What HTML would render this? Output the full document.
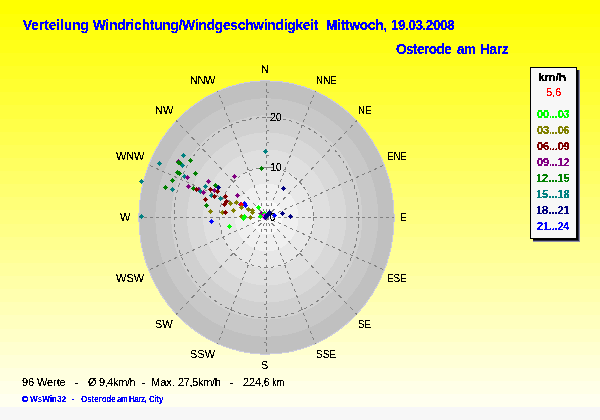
<!DOCTYPE html>
<html lang="de">
<head>
<meta charset="utf-8">
<title>Verteilung Windrichtung/Windgeschwindigkeit</title>
<style>
html,body{margin:0;padding:0;}
body{width:600px;height:420px;background:#f7f7f7;overflow:hidden;font-family:"Liberation Sans",sans-serif;}
#chart{position:absolute;left:0;top:0;width:600px;height:407px;overflow:hidden;
 background:linear-gradient(to bottom, rgb(255,255,0) 0.50px, rgb(255,255,0) 13.62px, rgb(255,255,8) 13.62px, rgb(255,255,8) 26.75px, rgb(255,255,16) 26.75px, rgb(255,255,16) 39.88px, rgb(255,255,24) 39.88px, rgb(255,255,24) 53.00px, rgb(255,255,32) 53.00px, rgb(255,255,32) 66.12px, rgb(255,255,40) 66.12px, rgb(255,255,40) 79.25px, rgb(255,255,48) 79.25px, rgb(255,255,48) 92.38px, rgb(255,255,56) 92.38px, rgb(255,255,56) 105.50px, rgb(255,255,64) 105.50px, rgb(255,255,64) 118.62px, rgb(255,255,72) 118.62px, rgb(255,255,72) 131.75px, rgb(255,255,80) 131.75px, rgb(255,255,80) 144.88px, rgb(255,255,88) 144.88px, rgb(255,255,88) 158.00px, rgb(255,255,96) 158.00px, rgb(255,255,96) 171.12px, rgb(255,255,104) 171.12px, rgb(255,255,104) 184.25px, rgb(255,255,112) 184.25px, rgb(255,255,112) 197.38px, rgb(255,255,120) 197.38px, rgb(255,255,120) 210.50px, rgb(255,255,128) 210.50px, rgb(255,255,128) 223.62px, rgb(255,255,135) 223.62px, rgb(255,255,135) 236.75px, rgb(255,255,143) 236.75px, rgb(255,255,143) 249.88px, rgb(255,255,151) 249.88px, rgb(255,255,151) 263.00px, rgb(255,255,159) 263.00px, rgb(255,255,159) 276.12px, rgb(255,255,167) 276.12px, rgb(255,255,167) 289.25px, rgb(255,255,175) 289.25px, rgb(255,255,175) 302.38px, rgb(255,255,183) 302.38px, rgb(255,255,183) 315.50px, rgb(255,255,191) 315.50px, rgb(255,255,191) 328.62px, rgb(255,255,199) 328.62px, rgb(255,255,199) 341.75px, rgb(255,255,207) 341.75px, rgb(255,255,207) 354.88px, rgb(255,255,215) 354.88px, rgb(255,255,215) 368.00px, rgb(255,255,223) 368.00px, rgb(255,255,223) 381.12px, rgb(255,255,231) 381.12px, rgb(255,255,231) 394.25px, rgb(255,255,239) 394.25px, rgb(255,255,239) 407.38px, rgb(255,255,247) 407.38px, rgb(255,255,247) 420.50px);}
#chart svg{position:absolute;left:0;top:0;}
.ln{position:absolute;left:0;top:0;width:0;height:0;}
.ln span{position:absolute;white-space:pre;line-height:1;filter:url(#crisp);}
.title span,.sub span{font-weight:bold;font-size:13.5px;color:#0000ff;transform:scaleY(1.05);transform-origin:0 0;filter:url(#crisp3);}
.foot span,.lb span{font-size:11px;color:#000;}
.copy span{font-size:8px;font-weight:bold;color:#0000ff;transform:scaleY(1.15);transform-origin:0 0;}
.lg span{font-weight:bold;font-size:11px;filter:url(#crisp3);}
#shadow{position:absolute;left:533px;top:70px;width:47px;height:172px;background:#9090ac;}
#shadow:before{content:"";position:absolute;left:0;top:0;width:46px;height:171px;background:#2c2c44;}
#shadow:after{content:"";position:absolute;left:0;top:0;width:45px;height:170px;background:#000;}
#lbox{position:absolute;left:530px;top:67px;width:45px;height:170px;border:1px solid #000;background:#f7f7f7;}
</style>
</head>
<body>
<div id="chart">
<svg width="600" height="407" viewBox="0 0 600 407">
<defs><filter id="crisp" x="-20%" y="-30%" width="140%" height="160%" color-interpolation-filters="sRGB"><feComponentTransfer><feFuncA type="discrete" tableValues="0 0 1 1 1"/></feComponentTransfer></filter><filter id="crisp15" x="-20%" y="-30%" width="140%" height="160%" color-interpolation-filters="sRGB"><feComponentTransfer><feFuncA type="discrete" tableValues="0 1 1 1 1 1 1"/></feComponentTransfer></filter><filter id="crisp3" x="-20%" y="-30%" width="140%" height="160%" color-interpolation-filters="sRGB"><feComponentTransfer><feFuncA type="discrete" tableValues="0 1 1"/></feComponentTransfer></filter><filter id="crisp25" x="-20%" y="-30%" width="140%" height="160%" color-interpolation-filters="sRGB"><feComponentTransfer><feFuncA type="discrete" tableValues="0 1 1 1"/></feComponentTransfer></filter></defs>
<g shape-rendering="crispEdges">
<ellipse cx="266.5" cy="217.5" rx="128.2" ry="137.2" fill="#ccccde"/>
<ellipse cx="266.5" cy="217.5" rx="127.2" ry="136.2" fill="rgb(192,192,192)"/>
<ellipse cx="266.8" cy="217.5" rx="111.51" ry="119.21" fill="rgb(200,200,200)"/>
<ellipse cx="266.8" cy="217.5" rx="95.58" ry="102.18" fill="rgb(208,208,208)"/>
<ellipse cx="266.8" cy="217.5" rx="79.65" ry="85.15" fill="rgb(216,216,216)"/>
<ellipse cx="266.8" cy="217.5" rx="63.72" ry="68.12" fill="rgb(223,223,223)"/>
<ellipse cx="266.8" cy="217.5" rx="47.79" ry="51.09" fill="rgb(231,231,231)"/>
<ellipse cx="266.8" cy="217.5" rx="31.86" ry="34.06" fill="rgb(239,239,239)"/>
<ellipse cx="266.8" cy="217.5" rx="15.93" ry="17.03" fill="rgb(247,247,247)"/>
</g>
<g stroke="#808080" stroke-width="1" fill="none" shape-rendering="crispEdges">
<line x1="266.50" y1="218.00" x2="266.50" y2="80.50" stroke-dasharray="3.00 3.00"/>
<line x1="266.31" y1="218.00" x2="315.33" y2="90.93" stroke-dasharray="3.22 3.22"/>
<line x1="266.03" y1="218.00" x2="356.73" y2="120.63" stroke-dasharray="4.10 4.10"/>
<line x1="266.00" y1="217.72" x2="384.39" y2="165.07" stroke-dasharray="3.28 3.28"/>
<line x1="266.00" y1="217.50" x2="394.10" y2="217.50" stroke-dasharray="3.00 3.00"/>
<line x1="266.00" y1="217.28" x2="384.39" y2="269.93" stroke-dasharray="3.28 3.28"/>
<line x1="266.03" y1="217.00" x2="356.73" y2="314.37" stroke-dasharray="4.10 4.10"/>
<line x1="266.31" y1="217.00" x2="315.33" y2="344.07" stroke-dasharray="3.22 3.22"/>
<line x1="266.50" y1="217.00" x2="266.50" y2="354.50" stroke-dasharray="3.00 3.00"/>
<line x1="266.69" y1="217.00" x2="217.67" y2="344.07" stroke-dasharray="3.22 3.22"/>
<line x1="266.97" y1="217.00" x2="176.27" y2="314.37" stroke-dasharray="4.10 4.10"/>
<line x1="267.00" y1="217.28" x2="148.61" y2="269.93" stroke-dasharray="3.28 3.28"/>
<line x1="267.00" y1="217.50" x2="138.90" y2="217.50" stroke-dasharray="3.00 3.00"/>
<line x1="267.00" y1="217.72" x2="148.61" y2="165.07" stroke-dasharray="3.28 3.28"/>
<line x1="266.97" y1="218.00" x2="176.27" y2="120.63" stroke-dasharray="4.10 4.10"/>
<line x1="266.69" y1="218.00" x2="217.67" y2="90.93" stroke-dasharray="3.22 3.22"/>
<ellipse cx="266.5" cy="217.5" rx="47" ry="50" stroke-dasharray="3.4 3.4"/>
<ellipse cx="266.5" cy="217.5" rx="92.5" ry="100" stroke-dasharray="3.4 3.4"/>
</g>
<g fill="#808080" shape-rendering="crispEdges">
<rect x="267" y="205" width="2" height="1"/>
<rect x="264" y="229" width="2" height="1"/>
<rect x="267" y="192" width="2" height="1"/>
<rect x="264" y="242" width="2" height="1"/>
<rect x="267" y="180" width="2" height="1"/>
<rect x="264" y="254" width="2" height="1"/>
<rect x="267" y="167" width="2" height="1"/>
<rect x="264" y="267" width="2" height="1"/>
<rect x="267" y="155" width="2" height="1"/>
<rect x="264" y="279" width="2" height="1"/>
<rect x="267" y="142" width="2" height="1"/>
<rect x="264" y="292" width="2" height="1"/>
<rect x="267" y="130" width="2" height="1"/>
<rect x="264" y="304" width="2" height="1"/>
<rect x="267" y="117" width="2" height="1"/>
<rect x="264" y="317" width="2" height="1"/>
<rect x="267" y="105" width="2" height="1"/>
<rect x="264" y="329" width="2" height="1"/>
<rect x="267" y="92" width="2" height="1"/>
<rect x="264" y="342" width="2" height="1"/>
</g>
</svg>
<div class="ln lb"><span style="left:261px;top:64px;">N</span> <span style="left:316px;top:75px;transform:scaleX(0.9);transform-origin:0 0;">NNE</span> <span style="left:358px;top:105px;transform:scaleX(0.9);transform-origin:0 0;">NE</span> <span style="left:387px;top:151px;letter-spacing:-0.25px;transform:scaleX(0.9);transform-origin:0 0;">ENE</span> <span style="left:400px;top:212px;transform:scaleX(0.9);transform-origin:0 0;">E</span> <span style="left:387px;top:273px;transform:scaleX(0.9);transform-origin:0 0;">ESE</span> <span style="left:358px;top:319px;transform:scaleX(0.9);transform-origin:0 0;">SE</span> <span style="left:316px;top:349px;letter-spacing:0.1px;transform:scaleX(0.9);transform-origin:0 0;">SSE</span> <span style="left:261px;top:360px;">S</span> <span style="left:190px;top:349px;">SSW</span> <span style="left:155px;top:319px;">SW</span> <span style="left:116px;top:273px;">WSW</span> <span style="left:120px;top:212px;">W</span> <span style="left:116px;top:151px;letter-spacing:-0.15px;">WNW</span> <span style="left:155px;top:105px;">NW</span> <span style="left:190px;top:75px;letter-spacing:-0.4px;">NNW</span> <span style="left:270px;top:112px;letter-spacing:-0.25px;">20</span> <span style="left:270px;top:162px;letter-spacing:-0.25px;">10</span> <span style="left:270px;top:212px;transform:scaleX(0.85);transform-origin:0 0;">0</span></div>
<svg width="600" height="407" viewBox="0 0 600 407">
<g shape-rendering="crispEdges">
<path fill="#008080" d="M183.5 153.0L186.0 155.5L183.5 158.0L181.0 155.5Z"/>
<path fill="#008000" d="M190.5 158.0L193.0 160.5L190.5 163.0L188.0 160.5Z"/>
<path fill="#008080" d="M159.5 161.0L162.0 163.5L159.5 166.0L157.0 163.5Z"/>
<path fill="#800080" d="M178.5 159.0L181.0 161.5L178.5 164.0L176.0 161.5Z"/>
<path fill="#008000" d="M178.5 160.0L181.0 162.5L178.5 165.0L176.0 162.5Z"/>
<path fill="#008000" d="M180.5 161.0L183.0 163.5L180.5 166.0L178.0 163.5Z"/>
<path fill="#008080" d="M182.5 163.0L185.0 165.5L182.5 168.0L180.0 165.5Z"/>
<path fill="#008000" d="M177.5 170.0L180.0 172.5L177.5 175.0L175.0 172.5Z"/>
<path fill="#008000" d="M179.5 171.0L182.0 173.5L179.5 176.0L177.0 173.5Z"/>
<path fill="#008080" d="M184.5 174.0L187.0 176.5L184.5 179.0L182.0 176.5Z"/>
<path fill="#800080" d="M187.5 175.0L190.0 177.5L187.5 180.0L185.0 177.5Z"/>
<path fill="#008000" d="M172.5 178.0L175.0 180.5L172.5 183.0L170.0 180.5Z"/>
<path fill="#008080" d="M141.5 179.0L144.0 181.5L141.5 184.0L139.0 181.5Z"/>
<path fill="#008000" d="M195.5 171.0L198.0 173.5L195.5 176.0L193.0 173.5Z"/>
<path fill="#008000" d="M165.5 185.0L168.0 187.5L165.5 190.0L163.0 187.5Z"/>
<path fill="#008080" d="M172.5 187.0L175.0 189.5L172.5 192.0L170.0 189.5Z"/>
<path fill="#800080" d="M188.5 184.0L191.0 186.5L188.5 189.0L186.0 186.5Z"/>
<path fill="#008000" d="M193.5 186.0L196.0 188.5L193.5 191.0L191.0 188.5Z"/>
<path fill="#008080" d="M141.5 214.0L144.0 216.5L141.5 219.0L139.0 216.5Z"/>
<path fill="#800080" d="M208.5 179.0L211.0 181.5L208.5 184.0L206.0 181.5Z"/>
<path fill="#800080" d="M234.5 174.0L237.0 176.5L234.5 179.0L232.0 176.5Z"/>
<path fill="#008000" d="M215.5 183.0L218.0 185.5L215.5 188.0L213.0 185.5Z"/>
<path fill="#000080" d="M218.5 185.0L221.0 187.5L218.5 190.0L216.0 187.5Z"/>
<path fill="#008080" d="M205.5 184.0L208.0 186.5L205.5 189.0L203.0 186.5Z"/>
<path fill="#800080" d="M198.5 187.0L201.0 189.5L198.5 192.0L196.0 189.5Z"/>
<path fill="#800000" d="M196.5 187.0L199.0 189.5L196.5 192.0L194.0 189.5Z"/>
<path fill="#008080" d="M200.5 189.0L203.0 191.5L200.5 194.0L198.0 191.5Z"/>
<path fill="#800080" d="M203.5 190.0L206.0 192.5L203.5 195.0L201.0 192.5Z"/>
<path fill="#800000" d="M210.5 187.0L213.0 189.5L210.5 192.0L208.0 189.5Z"/>
<path fill="#800080" d="M214.5 188.0L217.0 190.5L214.5 193.0L212.0 190.5Z"/>
<path fill="#800000" d="M217.5 189.0L220.0 191.5L217.5 194.0L215.0 191.5Z"/>
<path fill="#008080" d="M211.5 193.0L214.0 195.5L211.5 198.0L209.0 195.5Z"/>
<path fill="#800000" d="M214.5 194.0L217.0 196.5L214.5 199.0L212.0 196.5Z"/>
<path fill="#008080" d="M220.5 196.0L223.0 198.5L220.5 201.0L218.0 198.5Z"/>
<path fill="#800000" d="M205.5 197.0L208.0 199.5L205.5 202.0L203.0 199.5Z"/>
<path fill="#008000" d="M206.5 203.0L209.0 205.5L206.5 208.0L204.0 205.5Z"/>
<path fill="#800000" d="M225.5 194.0L228.0 196.5L225.5 199.0L223.0 196.5Z"/>
<path fill="#800000" d="M226.5 199.0L229.0 201.5L226.5 204.0L224.0 201.5Z"/>
<path fill="#800000" d="M224.5 202.0L227.0 204.5L224.5 207.0L222.0 204.5Z"/>
<path fill="#800080" d="M237.5 193.0L240.0 195.5L237.5 198.0L235.0 195.5Z"/>
<path fill="#808000" d="M230.5 201.0L233.0 203.5L230.5 206.0L228.0 203.5Z"/>
<path fill="#808000" d="M236.5 200.0L239.0 202.5L236.5 205.0L234.0 202.5Z"/>
<path fill="#800080" d="M240.5 202.0L243.0 204.5L240.5 207.0L238.0 204.5Z"/>
<path fill="#0000ff" d="M244.5 201.0L247.0 203.5L244.5 206.0L242.0 203.5Z"/>
<path fill="#0000ff" d="M245.5 203.0L248.0 205.5L245.5 208.0L243.0 205.5Z"/>
<path fill="#ff0000" d="M241.5 202.0L244.0 204.5L241.5 207.0L239.0 204.5Z"/>
<path fill="#808000" d="M241.5 205.0L244.0 207.5L241.5 210.0L239.0 207.5Z"/>
<path fill="#00ff00" d="M258.5 205.0L261.0 207.5L258.5 210.0L256.0 207.5Z"/>
<path fill="#808000" d="M248.5 207.0L251.0 209.5L248.5 212.0L246.0 209.5Z"/>
<path fill="#808000" d="M252.5 208.0L255.0 210.5L252.5 213.0L250.0 210.5Z"/>
<path fill="#808000" d="M252.5 210.0L255.0 212.5L252.5 215.0L250.0 212.5Z"/>
<path fill="#808000" d="M210.5 209.0L213.0 211.5L210.5 214.0L208.0 211.5Z"/>
<path fill="#0000ff" d="M211.5 219.0L214.0 221.5L211.5 224.0L209.0 221.5Z"/>
<path fill="#808000" d="M222.5 210.0L225.0 212.5L222.5 215.0L220.0 212.5Z"/>
<path fill="#800000" d="M225.5 210.0L228.0 212.5L225.5 215.0L223.0 212.5Z"/>
<path fill="#808000" d="M233.5 208.0L236.0 210.5L233.5 213.0L231.0 210.5Z"/>
<path fill="#808000" d="M241.5 214.0L244.0 216.5L241.5 219.0L239.0 216.5Z"/>
<path fill="#00ff00" d="M244.5 214.0L247.0 216.5L244.5 219.0L242.0 216.5Z"/>
<path fill="#00ff00" d="M243.5 216.0L246.0 218.5L243.5 221.0L241.0 218.5Z"/>
<path fill="#808000" d="M250.5 215.0L253.0 217.5L250.5 220.0L248.0 217.5Z"/>
<path fill="#800080" d="M261.5 211.0L264.0 213.5L261.5 216.0L259.0 213.5Z"/>
<path fill="#00ff00" d="M264.5 211.0L267.0 213.5L264.5 216.0L262.0 213.5Z"/>
<path fill="#ff00ff" d="M264.5 213.0L267.0 215.5L264.5 218.0L262.0 215.5Z"/>
<path fill="#ff00ff" d="M264.5 215.0L267.0 217.5L264.5 220.0L262.0 217.5Z"/>
<path fill="#00ff00" d="M260.5 214.0L263.0 216.5L260.5 219.0L258.0 216.5Z"/>
<path fill="#808080" d="M266.5 216.0L269.0 218.5L266.5 221.0L264.0 218.5Z"/>
<path fill="#000080" d="M269.5 210.0L272.0 212.5L269.5 215.0L267.0 212.5Z"/>
<path fill="#000080" d="M266.5 213.0L269.0 215.5L266.5 218.0L264.0 215.5Z"/>
<path fill="#000080" d="M265.5 215.0L268.0 217.5L265.5 220.0L263.0 217.5Z"/>
<path fill="#000080" d="M268.5 212.0L271.0 214.5L268.5 217.0L266.0 214.5Z"/>
<path fill="#0000ff" d="M274.5 213.0L277.0 215.5L274.5 218.0L272.0 215.5Z"/>
<path fill="#000080" d="M282.5 211.0L285.0 213.5L282.5 216.0L280.0 213.5Z"/>
<path fill="#000080" d="M290.5 214.0L293.0 216.5L290.5 219.0L288.0 216.5Z"/>
<path fill="#000080" d="M283.5 186.0L286.0 188.5L283.5 191.0L281.0 188.5Z"/>
<path fill="#008080" d="M265.5 149.0L268.0 151.5L265.5 154.0L263.0 151.5Z"/>
<path fill="#008000" d="M261.5 166.0L264.0 168.5L261.5 171.0L259.0 168.5Z"/>
<path fill="#00ff00" d="M229.5 224.0L232.0 226.5L229.5 229.0L227.0 226.5Z"/>
</g>
</svg>
<div class="ln title"><span style="left:23px;top:18px;letter-spacing:0.05px;">Verteilung</span> <span style="left:93px;top:18px;letter-spacing:-0.1px;">Windrichtung/Windgeschwindigkeit</span> <span style="left:326px;top:18px;letter-spacing:-0.15px;">Mittwoch,</span> <span style="left:391px;top:18px;letter-spacing:-0.45px;">19.03.2008</span></div>
<div class="ln sub"><span style="left:396px;top:42px;letter-spacing:-0.5px;">Osterode</span> <span style="left:457px;top:42px;letter-spacing:-0.4px;">am</span> <span style="left:480px;top:42px;letter-spacing:-0.15px;">Harz</span></div>
<div class="ln foot"><span style="left:22px;top:377px;letter-spacing:-0.1px;">96 Werte</span> <span style="left:75px;top:377px;">-</span> <span style="left:88px;top:377px;">Ø</span> <span style="left:99px;top:377px;letter-spacing:-0.4px;">9,4km/h</span> <span style="left:142px;top:377px;">-</span> <span style="left:151px;top:377px;">Max.</span> <span style="left:178px;top:377px;letter-spacing:-0.35px;">27,5km/h</span> <span style="left:230px;top:377px;">-</span> <span style="left:243px;top:377px;letter-spacing:-0.15px;">224,6</span> <span style="left:272px;top:377px;transform:scaleX(0.85);transform-origin:0 0;">km</span></div>
<div class="ln copy"><span style="left:22px;top:396px;filter:url(#crisp15);font-weight:normal;transform:none;">©</span> <span style="left:30px;top:395px;letter-spacing:0.1px;">WsWin32</span> <span style="left:72px;top:395px;">-</span> <span style="left:81px;top:395px;letter-spacing:-0.05px;">Osterode</span> <span style="left:117px;top:395px;letter-spacing:-0.6px;">am</span> <span style="left:129px;top:395px;letter-spacing:-0.45px;">Harz,</span> <span style="left:149px;top:395px;letter-spacing:-0.2px;">City</span></div>
<div id="shadow"></div>
<div id="lbox"></div>
<div class="ln lg"><span style="left:538px;top:72px;color:#000000;transform:scaleX(1.1);transform-origin:0 0;">km/h</span> <span style="left:546px;top:87px;color:#ff0000;font-weight:normal;filter:url(#crisp);">5,6</span> <span style="left:537px;top:109px;letter-spacing:-0.15px;color:#00ff00;">00...03</span> <span style="left:537px;top:125px;letter-spacing:-0.15px;color:#808000;">03...06</span> <span style="left:537px;top:141px;letter-spacing:-0.15px;color:#800000;">06...09</span> <span style="left:537px;top:157px;letter-spacing:-0.15px;color:#800080;">09...12</span> <span style="left:536px;top:173px;color:#008000;">12...15</span> <span style="left:536px;top:189px;color:#008080;">15...18</span> <span style="left:536px;top:205px;color:#000080;">18...21</span> <span style="left:537px;top:221px;letter-spacing:-0.2px;color:#0000ff;">21...24</span></div>
</div>
</body>
</html>
